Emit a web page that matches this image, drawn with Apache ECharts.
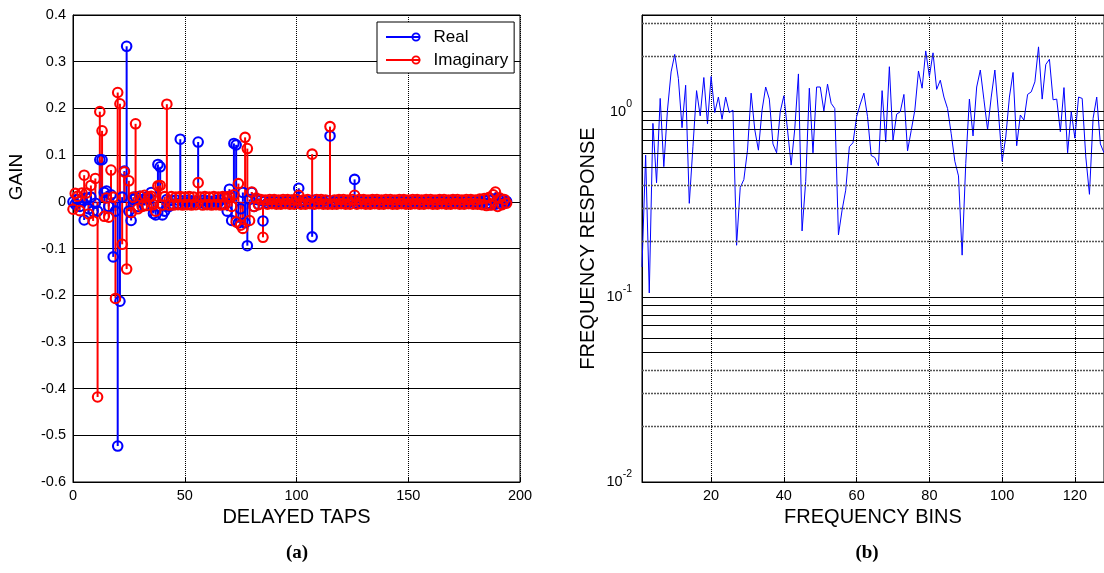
<!DOCTYPE html>
<html><head><meta charset="utf-8">
<script src="https://cdn.jsdelivr.net/npm/echarts@6/dist/echarts.min.js"></script>
<style>html,body{margin:0;padding:0;background:#fff}#c{width:1104px;height:573px}</style>
</head><body><div id="c"></div>
<script>
// ---- data: stem plot (a), taps 0..194 ----
const realTaps = [
 0.0, -0.005, 0.005, -0.01, 0.003, -0.039, 0.008, -0.015, 0.01, -0.02,
 -0.003, -0.02, 0.09, 0.09, 0.02, 0.023, -0.01, 0.015, -0.118, -0.02,
 -0.523, -0.213, 0.01, 0.066, 0.333, -0.02, -0.04, 0.005, 0.01, -0.01,
 0.012, 0.005, -0.008, 0.01, 0.005, 0.02, -0.025, -0.028, 0.08, 0.075,
 -0.028, -0.02, 0.005, -0.01, 0.003, -0.005, 0.004, -0.003, 0.134, 0.002,
 -0.004, 0.003, -0.005, 0.002, -0.003, 0.001, 0.128, -0.002, 0.003, -0.004,
 0.002, -0.003, 0.001, -0.004, 0.003, -0.002, 0.004, -0.005, 0.01, -0.02,
 0.027, -0.04, 0.125, 0.122, -0.045, -0.015, 0.02, -0.045, -0.094, 0.005,
 0.02, -0.01, 0.005, -0.005, 0.003, -0.041,
 0.002, -0.003, 0.001, -0.002, 0.003, -0.001, 0.002, -0.002, 0.001, -0.003,
 0.002, -0.001, 0.003, -0.002, 0.001, 0.029, -0.002, 0.001, -0.001, 0.002,
 -0.002, -0.075, 0.003, -0.001, 0.002, -0.002, 0.001, -0.003, 0.002, 0.141,
 -0.002, 0.001, -0.001, 0.002, -0.002, 0.001, -0.003, 0.002, -0.001, 0.001,
 0.048, -0.002, 0.001, -0.001, 0.002, -0.002, 0.001, -0.001, 0.002, -0.001,
 0.001, -0.002, 0.002, -0.001, 0.001, -0.002, 0.001, -0.001, 0.002, -0.001,
 0.001, -0.001, 0.002, -0.002, 0.001, -0.001, 0.001, -0.002, 0.002, -0.001,
 0.001, -0.001, 0.002, -0.001, 0.001, -0.002, 0.001, -0.001, 0.002, -0.001,
 0.001, -0.002, 0.001, -0.001, 0.002, -0.001, 0.001, -0.002, 0.002, -0.001,
 0.001, -0.002, 0.002, -0.001, 0.002, -0.003, 0.002, -0.002, 0.003, -0.004,
 0.004, -0.006, 0.006, -0.005, 0.008, -0.004, 0.004, -0.003, 0.001
];
const imagTaps = [
 -0.016, 0.018, 0.012, -0.019, 0.019, 0.057, 0.019, -0.026, 0.035, -0.041,
 0.05, -0.418, 0.193, 0.152, -0.031, 0.008, -0.033, 0.068, 0.01, -0.207,
 0.234, 0.21, -0.091, 0.064, -0.144, 0.045, -0.023, 0.01, 0.167, -0.015,
 0.012, -0.01, 0.014, -0.008, 0.01, 0.012, -0.006, -0.02, 0.034, 0.035,
 -0.007, 0.011, 0.209, -0.007, 0.011, -0.007, 0.01, -0.006, 0.011, -0.007,
 0.01, -0.006, 0.011, -0.007, 0.01, -0.006, 0.041, 0.01, -0.007, 0.011,
 -0.006, 0.01, -0.007, 0.011, -0.006, 0.01, -0.007, 0.011, -0.006, 0.01,
 0.012, -0.01, 0.015, -0.043, 0.039, -0.05, -0.057, 0.138, 0.114, -0.04,
 0.021, -0.01, 0.008, -0.006, 0.005, -0.076,
 0.004, -0.005, 0.005, -0.004, 0.005, -0.005, 0.004, -0.005, 0.005, -0.004,
 0.005, -0.005, 0.004, -0.005, 0.005, 0.014, -0.005, 0.004, -0.005, 0.005,
 -0.004, 0.102, -0.005, 0.005, -0.004, 0.005, -0.005, 0.004, -0.005, 0.161,
 -0.005, 0.004, -0.005, 0.005, -0.004, 0.005, -0.005, 0.004, -0.005, 0.005,
 0.014, -0.005, 0.005, -0.004, 0.005, -0.005, 0.004, -0.005, 0.005, -0.004,
 0.005, -0.005, 0.004, -0.005, 0.005, -0.004, 0.005, -0.005, 0.004, -0.005,
 0.005, -0.004, 0.005, -0.005, 0.004, -0.005, 0.005, -0.004, 0.005, -0.005,
 0.004, -0.005, 0.005, -0.004, 0.005, -0.005, 0.004, -0.005, 0.005, -0.004,
 0.005, -0.005, 0.004, -0.005, 0.005, -0.004, 0.005, -0.005, 0.004, -0.005,
 0.005, -0.004, 0.005, -0.005, 0.004, -0.005, 0.006, -0.006, 0.007, -0.008,
 0.009, -0.007, 0.015, 0.021, -0.01, 0.008, -0.006, 0.005, -0.003
];
// ---- data: frequency response (b), bins 1..128 ----
const freqResponse = [
 0.145, 0.583, 0.105, 0.865, 0.413, 1.18, 0.505, 1.02, 1.64, 2.04,
 1.51, 0.82, 1.39, 0.32, 0.647, 1.3, 0.95, 1.53, 0.86, 1.55,
 0.99, 1.2, 0.91, 1.2, 0.99, 1.02, 0.19, 0.39, 0.43, 0.62,
 1.26, 0.8, 0.62, 1.02, 1.36, 1.17, 0.67, 0.6, 1.0, 1.22,
 0.8, 0.515, 0.81, 1.6, 0.227, 0.42, 1.34, 0.6, 1.36, 1.36,
 1.01, 1.41, 1.11, 1.04, 0.216, 0.294, 0.377, 0.647, 0.68, 0.94,
 1.1, 1.26, 0.94, 0.58, 0.566, 0.51, 1.3, 0.69, 1.75, 0.70,
 0.97, 1.0, 1.24, 0.615, 0.79, 1.02, 1.66, 1.34, 2.13, 1.55,
 2.08, 1.32, 1.48, 1.2, 1.04, 0.76, 0.54, 0.45, 0.168, 0.526,
 1.17, 0.74, 1.36, 1.68, 1.16, 0.8, 1.2, 1.68, 0.98, 0.54,
 0.73, 1.2, 1.63, 0.655, 0.96, 0.9, 1.24, 1.28, 1.45, 2.24,
 1.17, 1.8, 1.92, 1.16, 1.17, 0.78, 1.35, 0.6, 1.0, 0.72,
 1.2, 1.18, 0.57, 0.358, 0.92, 1.2, 0.67, 0.6
];
const seriesNames = ['Real', 'Imaginary'];
const axisTitles = { tapsX: 'DELAYED TAPS', gainY: 'GAIN', binsX: 'FREQUENCY BINS', respY: 'FREQUENCY RESPONSE' };
const panelLabels = ['(a)', '(b)'];
const logMinorDark = [0.05, 0.06, 0.07, 0.08, 0.09, 0.5, 0.6, 0.7, 0.8, 0.9];
const logMinorLight = [0.02, 0.03, 0.04, 0.2, 0.3, 0.4, 2, 3];

const FF = 'Liberation Sans, Arial, Helvetica, sans-serif';
const BLUE = '#0000ff', RED = '#ff0000';
const realData = realTaps.map((v, i) => [i, v]);
const imagData = imagTaps.map((v, i) => [i, v]);
const freqData = freqResponse.map((v, i) => [i + 1, v]);

function stemSeries(data, color) {
  return {
    type: 'custom', xAxisIndex: 0, yAxisIndex: 0, data: data, silent: true,
    encode: { x: 0, y: 1 },
    renderItem: function (params, api) {
      const p0 = api.coord([api.value(0), 0]);
      const p1 = api.coord([api.value(0), api.value(1)]);
      return { type: 'line', shape: { x1: p0[0], y1: p0[1], x2: p1[0], y2: p1[1] },
               style: { stroke: color, lineWidth: 2 } };
    }
  };
}
function markerSeries(name, data, color) {
  return {
    type: 'scatter', name: name, xAxisIndex: 0, yAxisIndex: 0, data: data, silent: true,
    symbol: 'circle', symbolSize: 9.5,
    itemStyle: { color: 'rgba(0,0,0,0)', borderColor: color, borderWidth: 2.1, opacity: 1 }
  };
}
const ICON = 'path://M0,4 L34.5,4 L34.5,6 L0,6 Z M34.5,5 A4.5,4.5 0 1 1 25.5,5 A4.5,4.5 0 1 1 34.5,5 Z M32.7,5 A2.7,2.7 0 1 0 27.3,5 A2.7,2.7 0 1 0 32.7,5 Z';

const axisLabelStyle = { color: '#000', fontSize: 14.5, fontFamily: FF };
const nameStyle = { color: '#000', fontSize: 20, fontFamily: FF };

const option = {
  animation: false,
  backgroundColor: '#fff',
  grid: [
    { left: 73, top: 15, width: 447, height: 467, show: true, borderColor: '#000', borderWidth: 1, backgroundColor: 'transparent' },
    { left: 642, top: 15, width: 466.7, height: 467, show: true, borderColor: '#000', borderWidth: 1, backgroundColor: 'transparent' }
  ],
  xAxis: [
    { gridIndex: 0, type: 'value', min: 0, max: 200, interval: 50,
      axisLine: { show: true, onZero: false, lineStyle: { color: '#000', width: 1 } },
      axisTick: { show: true, inside: true, length: 4, lineStyle: { color: '#000' } },
      axisLabel: Object.assign({ margin: 6 }, axisLabelStyle),
      splitLine: { show: true, lineStyle: { color: '#000', width: 1, type: [1, 1] } },
      name: axisTitles.tapsX, nameLocation: 'middle', nameGap: 24, nameTextStyle: nameStyle },
    { gridIndex: 1, type: 'value', min: 1, max: 128, splitNumber: 6,
      axisLine: { show: true, onZero: false, lineStyle: { color: '#000', width: 1 } },
      axisTick: { show: true, inside: true, length: 4, lineStyle: { color: '#000' } },
      axisLabel: Object.assign({ margin: 6, showMinLabel: false, showMaxLabel: false,
        formatter: v => (v % 20 === 0 ? String(v) : '') }, axisLabelStyle),
      splitLine: { show: true, lineStyle: { color: '#000', width: 1, type: [1, 1] } },
      name: axisTitles.binsX, nameLocation: 'middle', nameGap: 24, nameTextStyle: nameStyle }
  ],
  yAxis: [
    { gridIndex: 0, type: 'value', min: -0.6, max: 0.4, interval: 0.1,
      axisLine: { show: true, onZero: false, lineStyle: { color: '#000', width: 1 } },
      axisTick: { show: true, inside: true, length: 4, lineStyle: { color: '#000' } },
      axisLabel: Object.assign({ margin: 7 }, axisLabelStyle),
      splitLine: { show: true, lineStyle: { color: '#000', width: 1 } } },
    { gridIndex: 1, type: 'log', logBase: 10, min: 0.01, max: 3.33,
      axisLine: { show: true, onZero: false, lineStyle: { color: '#000', width: 1 } },
      axisTick: { show: false },
      axisLabel: Object.assign({ margin: 10, lineHeight: 26,
        formatter: function (v) {
          const e = Math.log10(v), r = Math.round(e);
          return Math.abs(e - r) < 1e-6 ? '10{sup|' + r + '}' : '';
        },
        rich: { sup: { fontSize: 10.5, fontFamily: FF, color: '#000', verticalAlign: 'top', lineHeight: 12 } }
      }, axisLabelStyle),
      splitLine: { show: true, lineStyle: { color: '#000', width: 1 } },
      name: axisTitles.respY, nameLocation: 'middle', nameGap: 44, nameTextStyle: nameStyle }
  ],
  legend: {
    show: true, orient: 'vertical', left: 377, top: 22, padding: [5, 6, 3, 9], itemGap: 3,
    itemWidth: 34.5, itemHeight: 9, backgroundColor: '#fff', borderColor: '#000', borderWidth: 1,
    selectedMode: false,
    textStyle: { fontSize: 17, fontFamily: FF, color: '#000', lineHeight: 20, padding: [0, 0, 0, 8] },
    data: [
      { name: seriesNames[0], icon: ICON, itemStyle: { color: BLUE, borderWidth: 0, opacity: 1 } },
      { name: seriesNames[1], icon: ICON, itemStyle: { color: RED, borderWidth: 0, opacity: 1 } }
    ]
  },
  series: [
    stemSeries(realData, BLUE),
    markerSeries(seriesNames[0], realData, BLUE),
    stemSeries(imagData, RED),
    markerSeries(seriesNames[1], imagData, RED),
    {
      type: 'line', xAxisIndex: 1, yAxisIndex: 1, data: freqData, showSymbol: false, silent: true,
      lineStyle: { color: BLUE, width: 1 }, itemStyle: { color: BLUE },
      markLine: {
        silent: true, symbol: ['none', 'none'], label: { show: false }, animation: false,
        data: logMinorDark.map(v => ({ yAxis: v, lineStyle: { color: '#000', width: 1, type: 'solid' } }))
          .concat(logMinorLight.map(v => ({ yAxis: v, lineStyle: { color: '#555', width: 1.3, type: [2, 1] } })))
      }
    }
  ],
  graphic: [
    { type: 'text', x: 17, y: 177, rotation: Math.PI / 2,
      style: { text: axisTitles.gainY, font: '19px ' + FF, fill: '#000', align: 'center', verticalAlign: 'middle' } },
    { type: 'text', x: 297, y: 553,
      style: { text: panelLabels[0], font: 'bold 19px "Liberation Serif", "Times New Roman", serif', fill: '#000', align: 'center', verticalAlign: 'middle' } },
    { type: 'text', x: 867, y: 553,
      style: { text: panelLabels[1], font: 'bold 19px "Liberation Serif", "Times New Roman", serif', fill: '#000', align: 'center', verticalAlign: 'middle' } }
  ]
};
const chart = echarts.init(document.getElementById('c'), null, { renderer: 'canvas' });
chart.setOption(option);
</script></body></html>
